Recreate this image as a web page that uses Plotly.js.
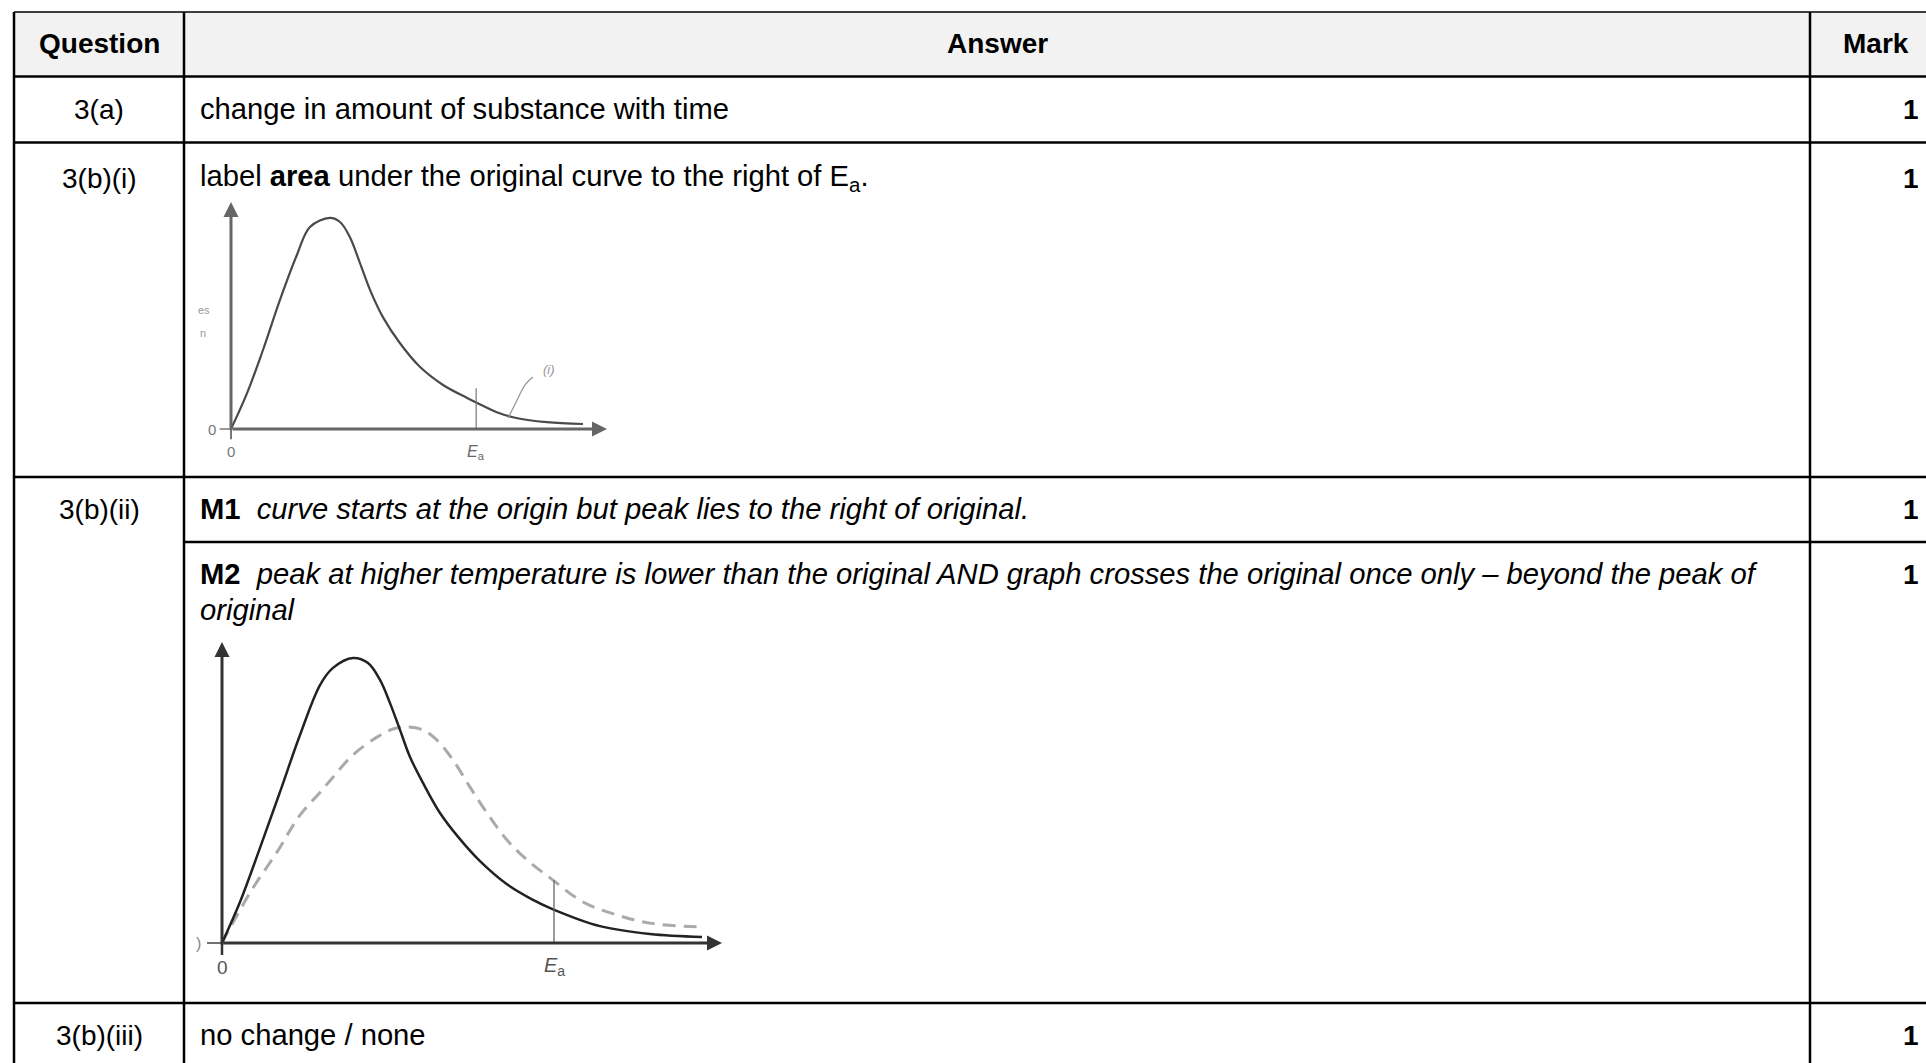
<!DOCTYPE html>
<html>
<head>
<meta charset="utf-8">
<script src="https://cdn.plot.ly/plotly-3.0.1.min.js"></script>
<style>
  html, body { margin: 0; padding: 0; background: #fff; overflow: hidden; }
  #chart { width: 1926px; height: 1063px; }
</style>
</head>
<body>
<div id="chart"></div>
<script>
// table text
const questions = ['3(a)', '3(b)(i)', '3(b)(ii)', '3(b)(iii)'];
const answers = [
    'change in amount of substance with time',
    'label <b>area</b> under the original curve to the right of E<sub>a</sub>.',
    '<b>M1</b>  <i>curve starts at the origin but peak lies to the right of original.</i>',
    '<b>M2</b>  <i>peak at higher temperature is lower than the original AND graph crosses the original once only – beyond the peak of</i>',
    '<i>original</i>',
    'no change / none'
];
const marks = ['1', '1', '1', '1', '1'];

// graph for 3(b)(i): original curve
const g1Energy = [0, 0.43, 0.85, 1.30, 1.76, 2.10, 2.63, 2.90, 3.16, 3.43, 3.70, 4.04, 4.49, 5.03, 5.64, 6.28, 6.52, 7.07, 7.50, 8.40, 9.36];
const g1Count  = [0, 1.59, 3.48, 5.68, 7.70, 8.90, 9.30, 9.12, 8.46, 7.31, 6.12, 4.93, 3.79, 2.73, 1.94, 1.37, 1.17, 0.74, 0.52, 0.30, 0.22];
const g1Ea = 6.52;
const g1EaTop = 1.8;
const g1LeaderX = [7.37, 7.61, 7.82, 8.03];
const g1LeaderY = [0.48, 1.28, 1.94, 2.29];

// graph for 3(b)(ii): original (solid) and higher temperature (dashed)
const g2SolidEnergy = [0, 0.36, 0.76, 1.16, 1.56, 1.96, 2.22, 2.62, 2.92, 3.16, 3.36, 3.56, 3.76, 4.02, 4.36, 4.76, 5.16, 5.70, 6.20, 6.62, 7.56, 8.56, 9.60];
const g2SolidCount  = [0, 1.36, 3.16, 5.02, 6.91, 8.57, 9.14, 9.47, 9.30, 8.74, 7.97, 7.08, 6.18, 5.32, 4.32, 3.45, 2.72, 1.95, 1.45, 1.12, 0.56, 0.30, 0.20];
const g2DashEnergy = [0, 0.16, 0.62, 1.10, 1.56, 1.96, 2.22, 2.62, 3.10, 3.42, 3.72, 4.02, 4.30, 4.62, 4.96, 5.30, 5.70, 6.10, 6.62, 7.22, 7.90, 8.56, 9.62];
const g2DashCount  = [0, 0.50, 1.83, 3.02, 4.25, 5.00, 5.51, 6.25, 6.84, 7.11, 7.18, 7.08, 6.74, 6.08, 5.18, 4.32, 3.42, 2.76, 2.09, 1.36, 0.93, 0.66, 0.53];
const g2Ea = 6.64;
const g2EaTop = 2.09;

const W = 1926, H = 1063;
const FONT = 'Arial, "Liberation Sans", sans-serif';
const FS = 28;      // header, question and mark text
const FS_ANS = 29.2; // answer text

function px(x) { return x / W; }
function py(y) { return 1 - y / H; }

// table grid (pixels)
const colX = [14, 184, 1810];
const rowY = [12, 76.5, 142.5, 477, 1003];

const shapes = [];
shapes.push({ type: 'rect', xref: 'paper', yref: 'paper', x0: px(14), x1: px(W + 5), y0: py(12), y1: py(76),
    fillcolor: '#f2f2f2', line: { width: 0 }, layer: 'below' });
rowY.forEach(function (y, i) {
    shapes.push({ type: 'line', xref: 'paper', yref: 'paper', x0: px(14), x1: px(W + 5), y0: py(y), y1: py(y),
        line: { color: '#000', width: i === 0 ? 1.5 : 2.5 } });
});
shapes.push({ type: 'line', xref: 'paper', yref: 'paper', x0: px(184), x1: px(W + 5), y0: py(542), y1: py(542),
    line: { color: '#000', width: 2.5 } });
colX.forEach(function (x) {
    shapes.push({ type: 'line', xref: 'paper', yref: 'paper', x0: px(x), x1: px(x), y0: py(12), y1: py(H + 5),
        line: { color: '#000', width: 2.5 } });
});

// small ticks and Ea markers inside the graphs
shapes.push({ type: 'line', xref: 'x2', yref: 'y2', x0: g1Ea, x1: g1Ea, y0: 0, y1: g1EaTop, line: { color: '#777', width: 1.2 } });
shapes.push({ type: 'line', xref: 'x2', yref: 'y2', x0: -0.3, x1: 0, y0: 0, y1: 0, line: { color: '#777', width: 1.5 } });
shapes.push({ type: 'line', xref: 'x2', yref: 'y2', x0: 0, x1: 0, y0: 0, y1: -0.45, line: { color: '#777', width: 2 } });
shapes.push({ type: 'line', xref: 'x3', yref: 'y3', x0: g2Ea, x1: g2Ea, y0: 0, y1: g2EaTop, line: { color: '#666', width: 1.3 } });
shapes.push({ type: 'line', xref: 'x3', yref: 'y3', x0: -0.3, x1: 0, y0: 0, y1: 0, line: { color: '#444', width: 1.5 } });
shapes.push({ type: 'line', xref: 'x3', yref: 'y3', x0: 0, x1: 0, y0: 0, y1: -0.4, line: { color: '#333', width: 2.5 } });

function txt(x, y, text, opts) {
    opts = opts || {};
    return {
        xref: 'paper', yref: 'paper', x: px(x), y: py(y), text: text, showarrow: false,
        xanchor: opts.xanchor || 'left', yanchor: 'middle',
        font: { family: FONT, size: opts.size || FS, color: opts.color || '#000' }
    };
}

const annotations = [];
// header
annotations.push(txt(99, 44, '<b>Question</b>', { xanchor: 'center' }));
annotations.push(txt(997, 44, '<b>Answer</b>', { xanchor: 'center' }));
annotations.push(txt(1876, 44, '<b>Mark</b>', { xanchor: 'center' }));
// question column
const qY = [109, 178, 509, 1035];
questions.forEach(function (q, i) {
    annotations.push(txt(99, qY[i], q, { xanchor: 'center' }));
});
// answer column
const aY = [109, 178, 509, 574, 610, 1035];
answers.forEach(function (a, i) {
    annotations.push(txt(198, aY[i], a, { size: FS_ANS }));
});
// mark column
const mY = [109, 178, 509, 574, 1035];
marks.forEach(function (m, i) {
    annotations.push(txt(1921, mY[i], '<b>' + m + '</b>', { xanchor: 'right' }));
});

// graph axes as arrows
function arrow(xr, yr, x, y, ax, ay, color, width) {
    return { xref: xr, yref: yr, axref: xr, ayref: yr, x: x, y: y, ax: ax, ay: ay, text: '',
        showarrow: true, arrowhead: 2, arrowsize: 1, arrowwidth: width, arrowcolor: color, standoff: 0, startstandoff: 0 };
}
function glabel(xr, yr, x, y, text, size, color) {
    return { xref: xr, yref: yr, x: x, y: y, text: text, showarrow: false, xanchor: 'center', yanchor: 'middle',
        font: { family: FONT, size: size, color: color } };
}
annotations.push(arrow('x2', 'y2', 10, 0, 0, 0, '#666', 3));
annotations.push(arrow('x2', 'y2', 0, 10, 0, -0.1, '#666', 3));
annotations.push(glabel('x2', 'y2', 0, -1.0, '0', 15, '#777'));
annotations.push(glabel('x2', 'y2', -0.5, 0, '0', 15, '#777'));
annotations.push(glabel('x2', 'y2', g1Ea, -1.05, '<i>E</i><sub>a</sub>', 16, '#666'));
annotations.push(glabel('x2', 'y2', 8.45, 2.6, '<i>(i)</i>', 13, '#999'));
annotations.push(glabel('x2', 'y2', -0.72, 5.24, 'es', 11, '#999'));
annotations.push(glabel('x2', 'y2', -0.75, 4.23, 'n', 11, '#999'));

annotations.push(arrow('x3', 'y3', 10, 0, 0, 0, '#333', 3));
annotations.push(arrow('x3', 'y3', 0, 10, 0, -0.1, '#333', 3));
annotations.push(glabel('x3', 'y3', 0, -0.8, '0', 19, '#555'));
annotations.push(glabel('x3', 'y3', -0.47, 0, ')', 16, '#888'));
annotations.push(glabel('x3', 'y3', g2Ea, -0.78, '<i>E</i><sub>a</sub>', 20, '#555'));

// graph placement: origin pixel and pixels per unit
function xdom(ox, ux, r) { return [(ox + r[0] * ux) / W, (ox + r[1] * ux) / W]; }
function ydom(oy, uy, r) { return [1 - (oy - r[0] * uy) / H, 1 - (oy - r[1] * uy) / H]; }
const xr = [-1, 10.5], yr = [-1.5, 10.5];

function hiddenAxis(domain, range, anchor) {
    return { domain: domain, range: range, anchor: anchor, visible: false, fixedrange: true, showgrid: false, zeroline: false };
}

const traces = [
    { x: g1Energy, y: g1Count, xaxis: 'x2', yaxis: 'y2', type: 'scatter', mode: 'lines',
      line: { color: '#4a4a4a', width: 2.2, shape: 'spline', smoothing: 1 }, hoverinfo: 'skip' },
    { x: g1LeaderX, y: g1LeaderY, xaxis: 'x2', yaxis: 'y2', type: 'scatter', mode: 'lines',
      line: { color: '#999', width: 1.3, shape: 'spline' }, hoverinfo: 'skip' },
    { x: g2DashEnergy, y: g2DashCount, xaxis: 'x3', yaxis: 'y3', type: 'scatter', mode: 'lines',
      line: { color: '#aaa', width: 3, dash: '13px,8px', shape: 'spline', smoothing: 1 }, hoverinfo: 'skip' },
    { x: g2SolidEnergy, y: g2SolidCount, xaxis: 'x3', yaxis: 'y3', type: 'scatter', mode: 'lines',
      line: { color: '#222', width: 2.5, shape: 'spline', smoothing: 1 }, hoverinfo: 'skip' }
];

const layout = {
    width: W, height: H,
    margin: { l: 0, r: 0, t: 0, b: 0 },
    paper_bgcolor: '#fff', plot_bgcolor: 'rgba(0,0,0,0)',
    showlegend: false,
    xaxis2: hiddenAxis(xdom(231, 37.6, xr), xr, 'y2'),
    yaxis2: hiddenAxis(ydom(429, 22.7, yr), yr, 'x2'),
    xaxis3: hiddenAxis(xdom(222, 50, xr), xr, 'y3'),
    yaxis3: hiddenAxis(ydom(943, 30.1, yr), yr, 'x3'),
    shapes: shapes,
    annotations: annotations
};

Plotly.newPlot('chart', traces, layout, { staticPlot: true, displayModeBar: false });
</script>
</body>
</html>
